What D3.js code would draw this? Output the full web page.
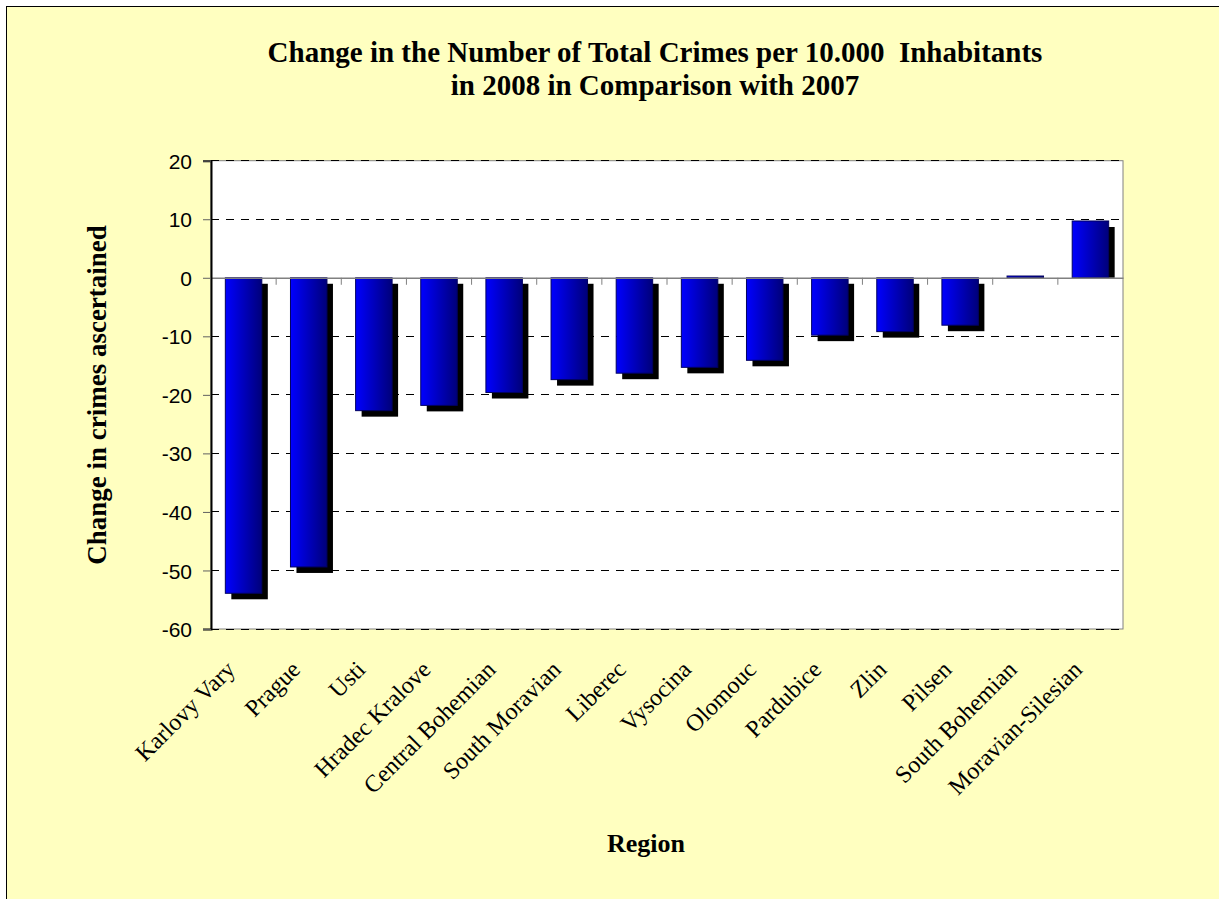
<!DOCTYPE html>
<html><head><meta charset="utf-8">
<script src="https://cdn.jsdelivr.net/npm/d3@7"></script>
<style>body{margin:0;background:#fff}svg{display:block}</style>
</head><body>
<svg id="c" width="1219" height="899"></svg>
<script>
const categories = ["Karlovy Vary","Prague","Usti","Hradec Kralove","Central Bohemian","South Moravian","Liberec","Vysocina","Olomouc","Pardubice","Zlin","Pilsen","South Bohemian","Moravian-Silesian"];
const values = [-53.9,-49.4,-22.7,-21.8,-19.6,-17.4,-16.3,-15.3,-14.1,-9.8,-9.2,-8.1,0.3,9.7];
const yTicks = [20,10,0,-10,-20,-30,-40,-50,-60];
const titleLines = ["Change in the Number of Total Crimes per 10.000  Inhabitants","in 2008 in Comparison with 2007"];
const yTitle = "Change in crimes ascertained";
const xTitle = "Region";

const svg = d3.select("#c");
const L = 211, R = 1123, T = 160.7, B = 629;
const serif = "'Liberation Serif','Times New Roman',serif";
const sans = "'Liberation Sans',Arial,sans-serif";

const defs = svg.append("defs");
const g = defs.append("linearGradient").attr("id","bg").attr("x1","0").attr("x2","1").attr("y1","0").attr("y2","0");
g.append("stop").attr("offset","0").attr("stop-color","#0000ff");
g.append("stop").attr("offset","1").attr("stop-color","#00007a");

svg.append("rect").attr("x",6.5).attr("y",6.5).attr("width",1230).attr("height",900)
  .attr("fill","#ffffc0").attr("stroke","#000").attr("stroke-width",1);

const x = d3.scaleBand().domain(categories).range([L,R]).paddingInner(0.44).paddingOuter(0.22);
const y = d3.scaleLinear().domain([-60,20]).range([B,T]);

svg.append("rect").attr("x",L).attr("y",T).attr("width",R-L).attr("height",B-T)
  .attr("fill","#fff").attr("stroke","#808080");

// gridlines
svg.append("g").selectAll("line").data(yTicks.filter(d=>d!==0)).join("line")
  .attr("x1",L).attr("x2",R).attr("y1",d=>y(d)).attr("y2",d=>y(d))
  .attr("stroke","#000").attr("stroke-dasharray","8,7").attr("shape-rendering","crispEdges");

// shadows
const zero = y(0);
svg.append("g").selectAll("rect").data(values).join("rect")
  .attr("x",(d,i)=>x(categories[i])+6)
  .attr("y",d=> d<0 ? zero+6 : y(d)+6)
  .attr("width",x.bandwidth())
  .attr("height",d=> d<0 ? y(d)-zero : Math.max(0,zero-y(d)-6))
  .attr("fill","#000");

// bars
svg.append("g").selectAll("rect").data(values).join("rect")
  .attr("x",(d,i)=>x(categories[i]))
  .attr("y",d=>Math.min(y(d),zero))
  .attr("width",x.bandwidth())
  .attr("height",d=>Math.abs(y(d)-zero))
  .attr("fill","url(#bg)").attr("stroke","#000060").attr("stroke-width",1);

// x axis at zero
const xAxis = d3.axisBottom(x).tickSize(0).tickFormat("");
const xa = svg.append("g").attr("transform",`translate(0,${zero})`).call(xAxis);
xa.select(".domain").attr("stroke","#808080").attr("stroke-width",1.5);
svg.append("g").selectAll("line").data(d3.range(1,categories.length)).join("line")
  .attr("x1",i=>L+x.step()*i).attr("x2",i=>L+x.step()*i)
  .attr("y1",zero).attr("y2",zero+7).attr("stroke","#808080");

// y axis
const yAxis = d3.axisLeft(y).tickValues(yTicks).tickSize(8).tickPadding(11).tickFormat(d=>String(d));
const ya = svg.append("g").attr("transform",`translate(${L},0)`).call(yAxis);
ya.select(".domain").attr("stroke","#000").attr("stroke-width",2);
ya.selectAll(".tick line").attr("stroke","#606060");
ya.selectAll(".tick text").attr("font-family",sans).attr("font-size",21).attr("fill","#000").attr("dy","0.36em");

// category labels
svg.append("g").selectAll("text").data(categories).join("text")
  .attr("transform",d=>`translate(${x(d)+x.bandwidth()/2-13},${B+36}) rotate(-45)`)
  .attr("text-anchor","end").attr("font-family",serif).attr("font-size",24)
  .attr("dy","0.35em")
  .text(d=>d);

// titles
svg.append("g").selectAll("text").data(titleLines).join("text")
  .attr("x",655).attr("y",(d,i)=>62+i*33)
  .attr("text-anchor","middle").attr("font-family",serif).attr("font-weight","bold").attr("font-size",29)
  .style("white-space","pre")
  .text(d=>d);

svg.append("text").attr("transform","translate(106,395) rotate(-90)")
  .attr("text-anchor","middle").attr("font-family",serif).attr("font-weight","bold").attr("font-size",27)
  .text(yTitle);

svg.append("text").attr("x",646).attr("y",852)
  .attr("text-anchor","middle").attr("font-family",serif).attr("font-weight","bold").attr("font-size",26)
  .text(xTitle);
</script>
</body></html>
